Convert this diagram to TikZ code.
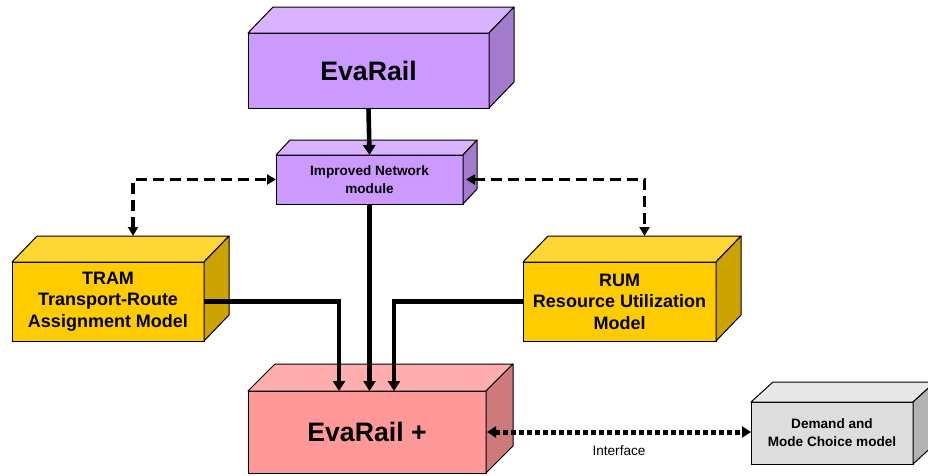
\documentclass[tikz,border=0pt]{standalone}
\usepackage{fontspec}
\setmainfont{Liberation Sans}
\usepackage{tikz}
\usetikzlibrary{arrows.meta,calc}
\definecolor{evaP}{RGB}{204,153,255}
\definecolor{evaPtop}{RGB}{217,179,255}
\definecolor{evaPside}{RGB}{163,122,204}
\definecolor{modY}{RGB}{255,204,0}
\definecolor{modYtop}{RGB}{255,214,51}
\definecolor{modYside}{RGB}{204,163,0}
\definecolor{plusR}{RGB}{255,153,153}
\definecolor{plusRtop}{RGB}{255,173,173}
\definecolor{plusRside}{RGB}{204,122,122}
\definecolor{dmG}{RGB}{221,221,221}
\definecolor{dmGtop}{RGB}{232,232,232}
\definecolor{dmGside}{RGB}{178,178,178}

% top and side faces of a block, drawn onto the front node
\newcommand{\cubefaces}[5]{%
  \draw[face, fill=#4] (#1.north west) -- ++(#2,#3) -- ($(#1.north east)+(#2,#3)$) -- (#1.north east) -- cycle;
  \draw[face, fill=#5] (#1.north east) -- ++(#2,#3) -- ($(#1.south east)+(#2,#3)$) -- (#1.south east) -- cycle;
  \coordinate (#1-top) at ($(#1.north)+(#2,#3)$);
}

\begin{document}
\begin{tikzpicture}[
  x=1pt, y=-1pt,
  box/.style={draw, line width=1pt, align=center, inner sep=2pt, outer sep=0pt},
  face/.style={draw, line width=1pt, line join=round},
  big/.style={box, font=\fontsize{26.7}{32}\selectfont\bfseries},
  mid/.style={box, font=\fontsize{18}{21.5}\selectfont\bfseries},
  small/.style={box, font=\fontsize{13.6}{18}\selectfont\bfseries},
  lbl/.style={font=\fontsize{13.6}{16}\selectfont, inner sep=0pt},
  link/.style={line width=4.6pt, -{Triangle[length=10pt,width=12pt]}},
  dashlink/.style={line width=3.2pt, dash pattern=on 11pt off 6pt,
    {Triangle[length=9pt,width=10pt]}-{Triangle[length=9pt,width=10pt]}},
  dotlink/.style={line width=5pt, dash pattern=on 4.5pt off 3.5pt,
    {Triangle[length=9pt,width=11pt]}-{Triangle[length=9pt,width=11pt]}}
]
\useasboundingbox (0,0) rectangle (928,475);

% EvaRail and network module
\node[big, fill=evaP, minimum width=241pt, minimum height=75pt] (evarail) at (368.5,70.5) {EvaRail};
\cubefaces{evarail}{25}{-26}{evaPtop}{evaPside}
\node[small, fill=evaP, minimum width=187pt, minimum height=49pt] (net) at (369.5,179.5) {Improved Network\\module};
\cubefaces{net}{14}{-15}{evaPtop}{evaPside}

% models
\node[mid, fill=modY, minimum width=192pt, minimum height=79pt] (tram) at (108,301.5) {TRAM\\Transport-Route\\Assignment Model};
\cubefaces{tram}{25}{-26}{modYtop}{modYside}
\node[mid, fill=modY, minimum width=193pt, minimum height=79pt] (rum) at (619.5,301.5) {RUM\\Resource Utilization\\Model};
\cubefaces{rum}{25}{-26}{modYtop}{modYside}

% EvaRail + and demand
\node[big, fill=plusR, minimum width=238pt, minimum height=82pt] (evaplus) at (367,432) {EvaRail +};
\cubefaces{evaplus}{27}{-27}{plusRtop}{plusRside}
\node[small, fill=dmG, minimum width=162pt, minimum height=62pt] (demand) at (832,433) {Demand and\\Mode Choice model};
\cubefaces{demand}{22}{-20}{dmGtop}{dmGside}

% connectors
\draw[link] (evarail.south) -- (net.north);
\draw[link] (net.south) -- (net.south |- evaplus.north);
\draw[link] (tram.east) -| ([xshift=-28pt]evaplus.north);
\draw[link] (rum.west) -| ([xshift=27pt]evaplus.north);
\draw[dashlink] (tram-top) |- (net.west);
\draw[dashlink] ([xshift=3pt]net.east) -| (rum-top);
\draw[dotlink] ([xshift=1pt]evaplus.east) -- (evaplus.east -| demand.west)
  node[midway, below=11pt, lbl] (iface) {Interface};

\end{tikzpicture}
\end{document}
